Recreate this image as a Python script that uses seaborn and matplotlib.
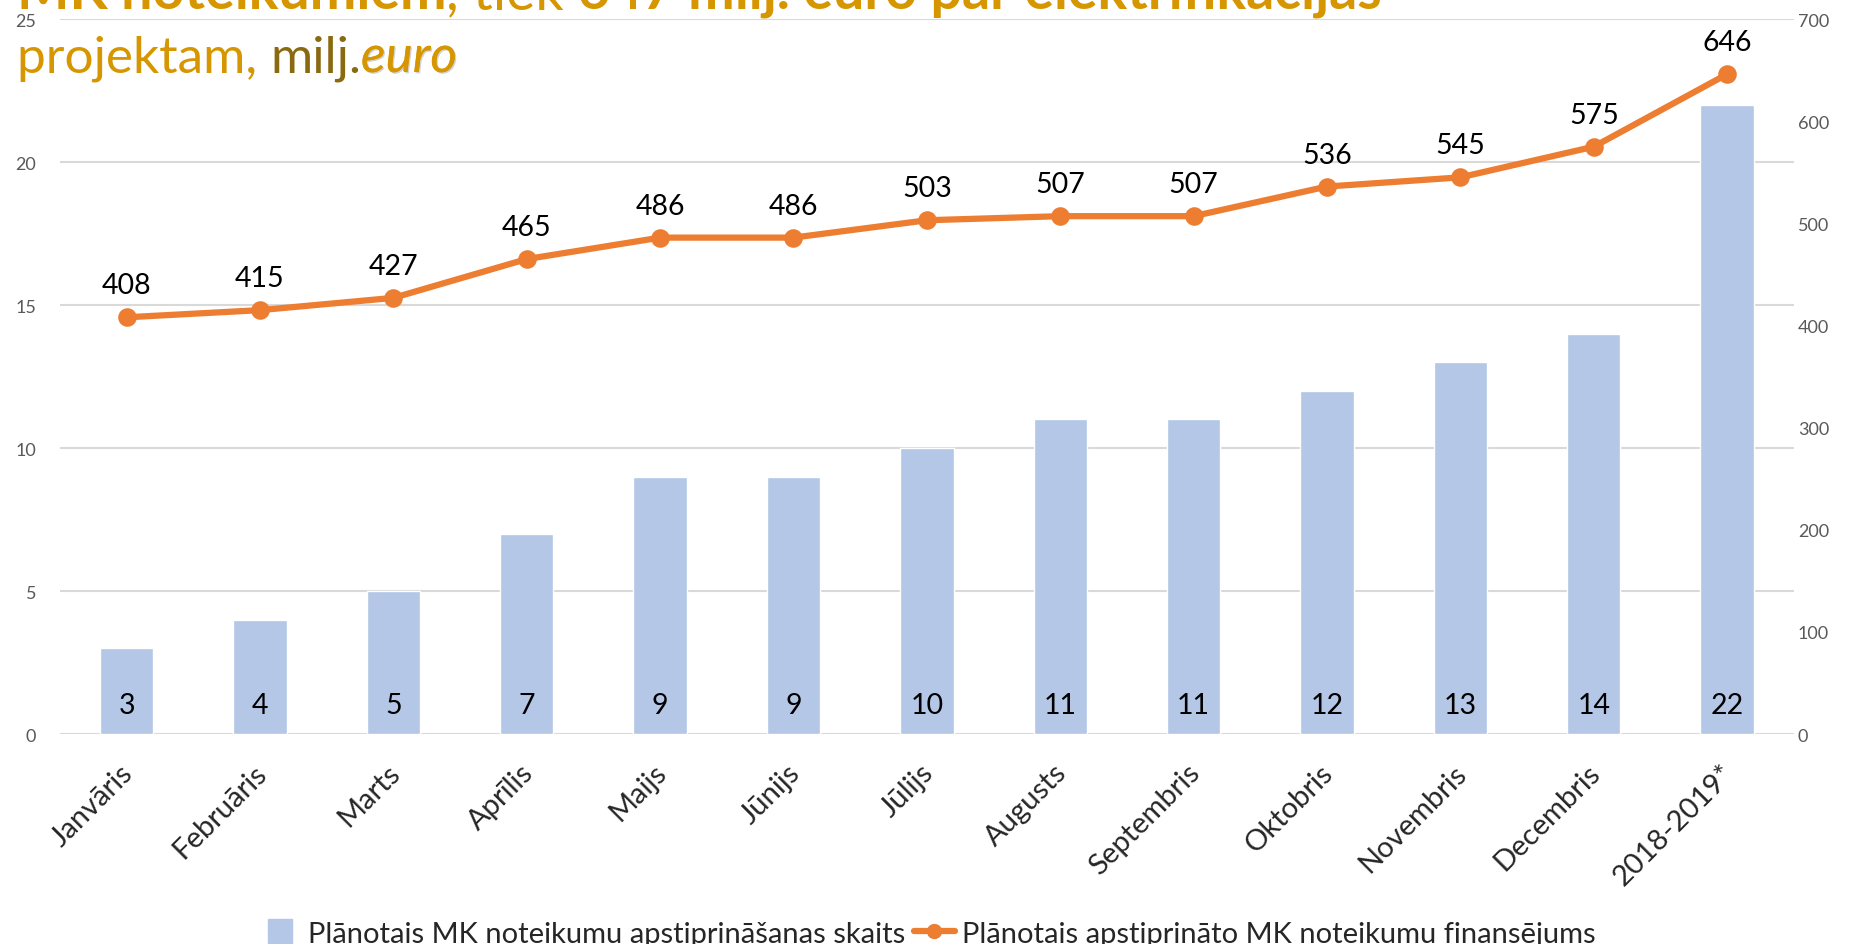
import numpy as np
import pandas as pd
import seaborn as sns
import matplotlib.pyplot as plt
import matplotlib.transforms as mtransforms
import matplotlib.patheffects as pe
from matplotlib.lines import Line2D

# -----------------------------------------------------------------------------
# data
# -----------------------------------------------------------------------------
months = ["Janvāris", "Februāris", "Marts", "Aprīlis", "Maijs", "Jūnijs",
          "Jūlijs", "Augusts", "Septembris", "Oktobris", "Novembris",
          "Decembris", "2018-2019*"]
rules_count = [3, 4, 5, 7, 9, 9, 10, 11, 11, 12, 13, 14, 22]
funding = [408, 415, 427, 465, 486, 486, 503, 507, 507, 536, 545, 575, 646]

bar_label = "Plānotais MK noteikumu apstiprināšanas skaits"
line_label = "Plānotais apstiprināto MK noteikumu finansējums"

left_ticks = [0, 5, 10, 15, 20, 25]
right_ticks = [0, 100, 200, 300, 400, 500, 600, 700]

BAR_COLOR = "#B4C7E7"
LINE_COLOR = "#ED7D31"
GOLD = "#D69600"
DARK_GOLD = "#8A6A10"
TICK_COLOR = "#595959"
GRID_COLOR = "#D9D9D9"


def write_run(fig, x, y, pieces):
    # draw text pieces one after the other on the same baseline
    renderer = fig.canvas.get_renderer()
    for txt, kw in pieces:
        t = fig.text(x, y, txt, va='baseline', ha='left', **kw)
        bb = t.get_window_extent(renderer)
        x = bb.x1 / fig.bbox.width


def main():
    sns.set_style("white")
    plt.rcParams['font.family'] = ['Lato', 'DejaVu Sans']

    df = pd.DataFrame({"month": months, "count": rules_count, "funding": funding})

    fig = plt.figure(figsize=(18.55, 9.45), dpi=100)
    ax = fig.add_axes([0.0323, 0.2222, 0.9347, 0.7566])

    sns.barplot(data=df, x="month", y="count", order=months, color=BAR_COLOR,
                saturation=1, width=0.4, ax=ax)
    ax.set_ylim(0, 25)
    ax.set_yticks(left_ticks)
    ax.grid(axis='y', color=GRID_COLOR, linewidth=1.5)
    ax.set_axisbelow(True)
    for s in ax.spines.values():
        s.set_visible(False)
    ax.set_xlabel("")
    ax.set_ylabel("")
    ax.tick_params(axis='y', labelsize=13, labelcolor=TICK_COLOR, length=0, pad=17)
    ax.tick_params(axis='x', labelsize=21, length=0, pad=18)

    # rotated month labels, anchored at their top-right corner
    offset = mtransforms.ScaledTranslation(-5 / 72, 0, fig.dpi_scale_trans)
    for lbl in ax.get_xticklabels():
        lbl.set_rotation(45)
        lbl.set_ha('right')
        lbl.set_va('top')
        lbl.set_rotation_mode('anchor')
        lbl.set_transform(lbl.get_transform() + offset)

    # bar counts sit at the bottom of each bar
    for i, v in enumerate(rules_count):
        ax.annotate(str(v), xy=(i, 0), xytext=(0, 21), textcoords='offset points',
                    ha='center', va='center', fontsize=20.5, color='black')

    ax2 = ax.twinx()
    sns.pointplot(data=df, x="month", y="funding", order=months, color=LINE_COLOR,
                  markersize=10, linewidth=4.5, ax=ax2)
    ax2.set_ylim(0, 700)
    ax2.set_yticks(right_ticks)
    ax2.set_xlim(-0.5, len(months) - 0.5)
    ax2.set_ylabel("")
    ax2.set_xlabel("")
    for s in ax2.spines.values():
        s.set_visible(False)
    ax2.tick_params(axis='y', labelsize=13, labelcolor=TICK_COLOR, length=0, pad=3)
    ax2.grid(False)

    for i, v in enumerate(funding):
        ax2.annotate(str(v), xy=(i, v), xytext=(0, 23), textcoords='offset points',
                     ha='center', va='center', fontsize=20.5, color='black')

    # legend at the very bottom
    handles = [
        Line2D([], [], marker='s', markersize=17, color=BAR_COLOR, linestyle='none'),
        Line2D([], [], marker='o', markersize=10, color=LINE_COLOR, linewidth=4.5),
    ]
    fig.legend(handles, [bar_label, line_label], loc='center',
               bbox_to_anchor=(0.5, 0.011), ncol=2, frameon=False, fontsize=21,
               handlelength=1.4, handletextpad=0.25, columnspacing=0.3)

    # title (its top line is cut off in the original)
    shadow = [pe.withSimplePatchShadow(offset=(1, -1), shadow_rgbFace='#808080', alpha=0.35),
              pe.Normal()]
    write_run(fig, 0.009, 1 - 9 / 945, [
        ("MK noteikumiem", dict(fontsize=40, fontweight='bold', color=GOLD)),
        (", tiek ", dict(fontsize=40, color=GOLD)),
        ("647 milj. euro par elektrifikācijas", dict(fontsize=40, fontweight='bold', color=GOLD)),
    ])
    write_run(fig, 0.009, 1 - 73 / 945, [
        ("projektam, ", dict(fontsize=37, color=GOLD)),
        ("milj.", dict(fontsize=37, color=DARK_GOLD)),
        ("euro", dict(fontsize=37, color=GOLD, style='italic', path_effects=shadow)),
    ])

    fig.savefig("out.png", dpi=100)


if __name__ == "__main__":
    main()
